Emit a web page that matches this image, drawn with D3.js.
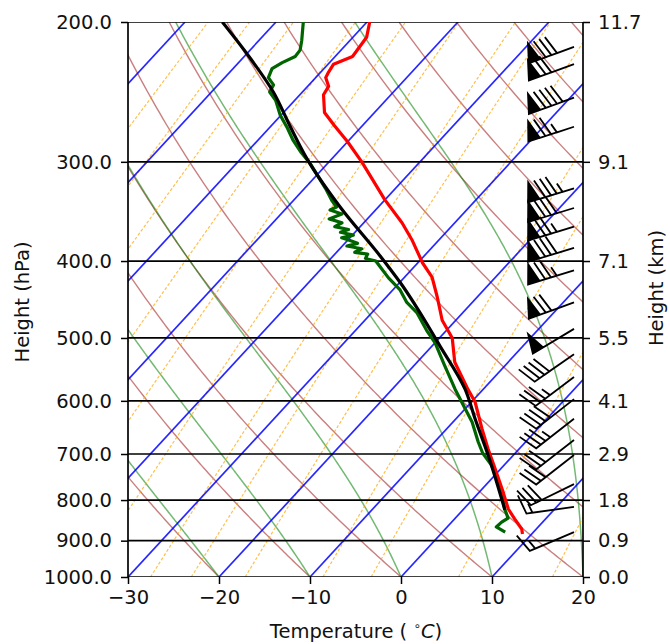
<!DOCTYPE html>
<html><head><meta charset="utf-8">
<script src="https://cdn.jsdelivr.net/npm/d3@7"></script>
<style>body{margin:0;background:#fff} text{font-family:"DejaVu Sans",sans-serif}</style>
</head><body><svg id="c" width="670" height="644"></svg>
<script>
// ---------------- data ----------------
const pressureTicks = [1000, 900, 800, 700, 600, 500, 400, 300, 200];
const heightLabels = ["0.0", "0.9", "1.8", "2.9", "4.1", "5.5", "7.1", "9.1", "11.7"];
const tempTicks = [-30, -20, -10, 0, 10, 20];

// temperature profile (hPa, degC)
const tempP = [883, 870, 845, 821, 775, 731, 690, 651, 602, 580, 536, 500, 475, 444, 419, 402, 376, 358, 335, 300, 283, 270, 260, 247, 241, 235, 232, 226, 221, 209, 200];
const tempT = [9.0, 8.4, 6.6, 4.9, 2.2, -0.6, -3.4, -6.1, -9.6, -11.7, -15.9, -18.6, -21.5, -24.4, -27.0, -29.5, -33.0, -35.8, -40.0, -46.4, -50.0, -53.1, -55.5, -57.4, -57.7, -58.9, -59.1, -59.4, -58.1, -58.5, -59.7];

// dewpoint profile (hPa, degC)
const dewP = [878, 865, 853, 843, 821, 788, 753, 723, 698, 676, 638, 614, 580, 541, 507, 489, 465, 451, 435, 420, 407, 400, 397, 392, 390, 386, 383, 380, 377, 374, 371, 368, 365, 362, 358, 354, 349, 345, 342, 336, 324, 312, 301, 292, 282, 272, 262, 251, 245, 240, 235, 229, 225, 221, 217, 211, 200];
const dewT = [6.9, 5.4, 5.5, 5.8, 4.5, 2.8, 0.7, -1.4, -3.6, -5.2, -7.9, -10.0, -13.1, -16.7, -20.0, -22.2, -25.0, -27.2, -29.2, -31.7, -33.7, -34.8, -36.2, -36.4, -38.0, -37.6, -39.5, -38.6, -39.7, -40.9, -39.9, -41.6, -41.0, -42.8, -42.4, -44.2, -43.3, -45.0, -44.6, -45.7, -47.7, -49.9, -52.0, -54.0, -56.1, -58.0, -60.1, -62.1, -63.6, -63.9, -65.2, -65.7, -65.2, -64.4, -64.5, -65.3, -67.0];

// parcel profile (hPa, degC)
const parcelP = [823, 702, 632, 580, 513, 426, 395, 342, 297, 270, 245, 222, 200];
const parcelT = [4.6, -2.8, -7.9, -12.0, -19.0, -29.9, -34.7, -44.2, -52.8, -58.0, -63.2, -69.2, -75.9];

// wind barbs (hPa, knots, degrees)
const windP = [215, 226, 249, 271, 324, 343, 362, 385, 411, 451, 487, 524, 560, 597, 632, 672, 702, 764, 816, 878];
const windSpd = [80, 70, 90, 75, 85, 80, 75, 80, 75, 70, 50, 40, 35, 40, 35, 30, 30, 30, 15, 15];
const windDir = [250, 250, 250, 252, 253, 253, 253, 253, 253, 250, 239, 235, 233, 232, 232, 232, 232, 244, 262, 247];

// background guide lines
const isothermT = d3.range(-120, 21, 10);
const dryT0 = d3.range(-60, 201, 10);
const moistT0 = [-30, -20, -10, 0, 10, 20];
const mixingRatios = [0.005, 0.01, 0.02, 0.05, 0.1, 0.2, 0.4, 0.6, 1, 2, 3, 6, 12]; // g/kg

// ---------------- layout ----------------
const L = 128, R = 583, T = 22, B = 577;
const SKEW = 512 / 555;
const svg = d3.select("#c");
const x = d3.scaleLinear().domain([-30, 20]).range([L, R]);
const y = d3.scaleLog().domain([1000, 200]).range([B, T]);
const sx = (t, p) => x(t) + SKEW * (B - y(p));

svg.append("defs").append("clipPath").attr("id", "clip")
  .append("rect").attr("x", L).attr("y", T).attr("width", R - L).attr("height", B - T);
const plot = svg.append("g").attr("clip-path", "url(#clip)");
const line = d3.line().x(d => sx(d.t, d.p)).y(d => y(d.p));
const pGrid = d3.range(1000, 199, -5);

// dry adiabats
plot.append("g").selectAll("path").data(dryT0).join("path")
  .attr("d", t0 => line(pGrid.map(p => ({p, t: (t0 + 273.15) * Math.pow(p / 1000, 0.2857) - 273.15}))))
  .attr("fill", "none").attr("stroke", "#a52a2a").attr("stroke-opacity", 0.6).attr("stroke-width", 1.4);

// moist adiabats
function dTdp(p, Tk) {
  const es = 6.112 * Math.exp(17.67 * (Tk - 273.15) / (Tk - 29.65));
  const rs = 0.622 * es / (p - es);
  const Rd = 287.04, Cp = 1005.7, Lv = 2.501e6, eps = 0.622;
  return (1 / p) * (Rd * Tk + Lv * rs) / (Cp + (Lv * Lv * rs * eps) / (Rd * Tk * Tk));
}
function moist(t0) {
  let Tk = t0 + 273.15, p = 1000; const out = [{p, t: t0}]; const h = -2;
  while (p > 200) {
    const k1 = dTdp(p, Tk), k2 = dTdp(p + h / 2, Tk + h / 2 * k1), k3 = dTdp(p + h / 2, Tk + h / 2 * k2), k4 = dTdp(p + h, Tk + h * k3);
    Tk += h / 6 * (k1 + 2 * k2 + 2 * k3 + k4); p += h;
    out.push({p, t: Tk - 273.15});
  }
  return out;
}
plot.append("g").selectAll("path").data(moistT0).join("path")
  .attr("d", t0 => line(moist(t0)))
  .attr("fill", "none").attr("stroke", "#008000").attr("stroke-opacity", 0.55).attr("stroke-width", 1.5);

// mixing ratio lines
function dewFromW(w, p) { const e = w * p / (0.622 + w); const a = Math.log(e / 6.112); return 243.5 * a / (17.67 - a); }
plot.append("g").selectAll("path").data(mixingRatios).join("path")
  .attr("d", w => line(pGrid.map(p => ({p, t: dewFromW(w / 1000, p)}))))
  .attr("fill", "none").attr("stroke", "#ffa500").attr("stroke-opacity", 0.7).attr("stroke-width", 1.2)
  .attr("stroke-dasharray", "3,2");

// isotherms
plot.append("g").selectAll("line").data(isothermT).join("line")
  .attr("x1", t => sx(t, 1000)).attr("y1", y(1000)).attr("x2", t => sx(t, 200)).attr("y2", y(200))
  .attr("stroke", "#0000ff").attr("stroke-opacity", 0.85).attr("stroke-width", 1.7);

// pressure grid lines
plot.append("g").selectAll("line").data(pressureTicks).join("line")
  .attr("x1", L).attr("x2", R).attr("y1", p => y(p)).attr("y2", p => y(p))
  .attr("stroke", "#000").attr("stroke-width", 1.7);

// profiles
const prof = (P, Tt) => P.map((p, i) => ({p, t: Tt[i]}));
plot.append("path").attr("d", line(prof(dewP, dewT))).attr("fill", "none").attr("stroke", "#006400").attr("stroke-width", 3.2).attr("stroke-linejoin", "round");
plot.append("path").attr("d", line(prof(tempP, tempT))).attr("fill", "none").attr("stroke", "#ff0000").attr("stroke-width", 3.2).attr("stroke-linejoin", "round");
plot.append("path").attr("d", d3.line().curve(d3.curveMonotoneY).x(d => sx(d.t, d.p)).y(d => y(d.p))(prof(parcelP, parcelT))).attr("fill", "none").attr("stroke", "#000").attr("stroke-width", 3.2);

// wind barbs (matplotlib geometry)
const BL = 48, FH = BL * 0.4, FW = BL * 0.25, SP = BL * 0.125;
const bx = 574;
function barbPath(spd, dir) {
  let mag = Math.round(spd / 5) * 5;
  const nflags = Math.floor(mag / 50); mag -= nflags * 50;
  const nbarbs = Math.floor(mag / 10); mag -= nbarbs * 10;
  const half = mag >= 5;
  const v = [[0, 0]]; let off = BL;
  for (let i = 0; i < nflags; i++) {
    if (off !== BL) off += SP / 2;
    v.push([0, off], [FH, off - FW / 2], [0, off - FW]);
    off -= FW + SP;
  }
  for (let i = 0; i < nbarbs; i++) { v.push([0, off], [FH, off + FW / 2], [0, off]); off -= SP; }
  if (half) {
    if (off === BL) { v.push([0, off]); off -= 1.5 * SP; }
    v.push([0, off], [FH / 2, off + FW / 4], [0, off]);
  }
  const rad = dir * Math.PI / 180;
  const u = -spd * Math.sin(rad), w = -spd * Math.cos(rad);
  const th = Math.atan2(w, u) + Math.PI / 2;
  const c = Math.cos(th), s = Math.sin(th);
  return v.map(([px, py]) => [px * c - py * s, -(px * s + py * c)]);
}
svg.append("g").selectAll("path").data(windP).join("path")
  .attr("transform", p => `translate(${bx},${y(p)})`)
  .attr("d", (p, i) => "M" + barbPath(windSpd[i], windDir[i]).map(q => q[0].toFixed(2) + "," + q[1].toFixed(2)).join("L") + "Z")
  .attr("fill", "#000").attr("stroke", "#000").attr("stroke-width", 1.8).attr("stroke-linejoin", "miter");

// spines
svg.append("line").attr("x1", L).attr("x2", L).attr("y1", T).attr("y2", B).attr("stroke", "#000").attr("stroke-width", 1.7);
svg.append("line").attr("x1", R).attr("x2", R).attr("y1", T).attr("y2", B).attr("stroke", "#000").attr("stroke-width", 1.7);

// axes
const fs = "19.5px";
const ax1 = svg.append("g").attr("transform", `translate(${L},0)`)
  .call(d3.axisLeft(y).tickValues(pressureTicks).tickFormat(d3.format(".1f")).tickSize(7).tickPadding(9));
const ax2 = svg.append("g").attr("transform", `translate(${R},0)`)
  .call(d3.axisRight(y).tickValues(pressureTicks).tickFormat((d, i) => heightLabels[i]).tickSize(7).tickPadding(8));
const ax3 = svg.append("g").attr("transform", `translate(0,${B})`)
  .call(d3.axisBottom(x).tickValues(tempTicks).tickSize(7).tickPadding(6));
[ax1, ax2, ax3].forEach(a => {
  a.select(".domain").remove();
  a.selectAll("line").attr("stroke", "#000").attr("stroke-width", 1.5);
  a.selectAll("text").attr("font-size", fs).attr("fill", "#111").attr("font-family", "DejaVu Sans");
});

// axis titles
svg.append("text").attr("transform", "translate(29,302) rotate(-90)").attr("text-anchor", "middle")
  .attr("font-size", "19.5px").attr("fill", "#111").text("Height (hPa)");
svg.append("text").attr("transform", "translate(663,288) rotate(-90)").attr("text-anchor", "middle")
  .attr("font-size", "19.5px").attr("fill", "#111").text("Height (km)");
const xt = svg.append("text").attr("x", 356).attr("y", 638).attr("text-anchor", "middle").attr("font-size", "19.5px").attr("fill", "#111");
xt.append("tspan").text("Temperature ( ");
xt.append("tspan").attr("dy", -8).attr("font-size", "12px").text("∘");
xt.append("tspan").attr("dy", 8).attr("font-style", "italic").text("C");
xt.append("tspan").text(")");
</script></body></html>
